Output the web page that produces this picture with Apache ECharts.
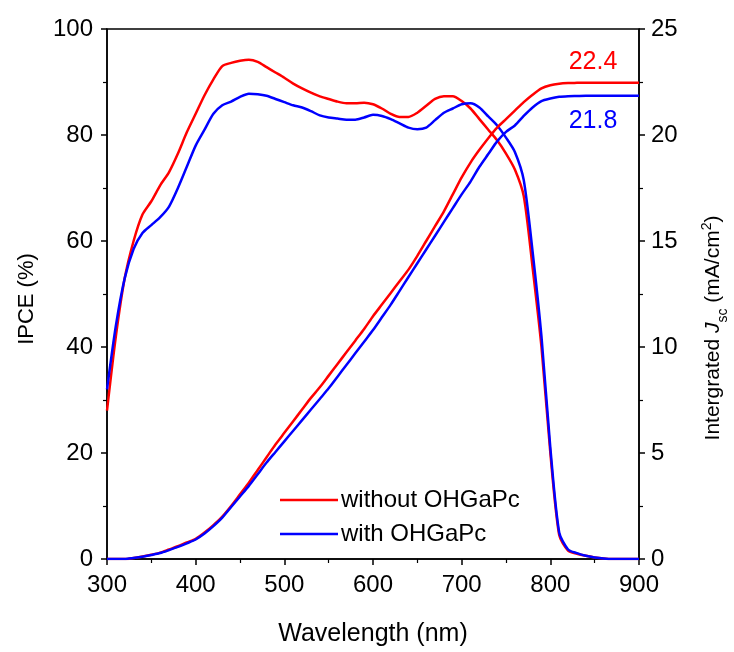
<!DOCTYPE html>
<html>
<head>
<meta charset="utf-8">
<script src="https://cdn.jsdelivr.net/npm/echarts@6/dist/echarts.min.js"></script>
<style>html,body{margin:0;padding:0;background:#fff}#c{width:734px;height:652px}</style>
</head>
<body>
<div id="c"></div>
<script>
const wavelength = [300,310,320,330,340,350,360,370,380,390,400,410,420,430,440,450,460,470,480,490,500,510,520,530,540,550,560,570,580,590,600,610,620,630,640,650,660,670,680,690,700,710,720,730,740,750,760,770,780,790,800,810,820,830,840,850,860,870,880,890,900];
const ipceWithout = [28,42,53,60,65,67.5,70.5,73,76.5,80.5,84,87.5,90.5,93,93.6,94,94.2,93.8,92.8,91.8,90.8,89.7,88.8,88,87.3,86.8,86.3,86,86,86.1,85.8,85,84,83.4,83.4,84.2,85.5,86.8,87.3,87.3,86.4,85,83,81,79,76.5,73.5,68.5,55,40,20,4.5,1.6,1,0.6,0.3,0.1,0,0,0,0];
const ipceWith = [32,44,53,58.5,61.5,63,64.5,66.5,70,74,78,81,84,85.6,86.3,87.2,87.8,87.7,87.4,86.8,86.2,85.6,85.2,84.5,83.7,83.3,83.1,82.9,82.9,83.3,83.8,83.6,83,82.2,81.4,81.1,81.4,82.8,84.2,85,85.8,86,85.2,83.5,81.8,79.5,76.8,71.5,58,42,21,5,1.8,1.1,0.6,0.3,0.1,0,0,0,0];
const jscWithout = [0,0,0,0.05,0.12,0.2,0.3,0.45,0.6,0.78,0.95,1.25,1.6,2.0,2.5,3.05,3.6,4.2,4.8,5.4,5.95,6.5,7.05,7.6,8.1,8.65,9.2,9.75,10.3,10.85,11.45,12.0,12.55,13.1,13.65,14.3,15.0,15.7,16.4,17.2,18.0,18.7,19.3,19.85,20.35,20.75,21.15,21.55,21.9,22.2,22.35,22.42,22.45,22.46,22.47,22.47,22.47,22.47,22.47,22.47,22.47];
const jscWith = [0,0,0,0.05,0.11,0.19,0.28,0.42,0.57,0.74,0.92,1.2,1.55,1.95,2.45,2.95,3.45,4.0,4.55,5.05,5.55,6.05,6.55,7.05,7.55,8.05,8.6,9.15,9.7,10.25,10.8,11.4,12.0,12.65,13.3,13.95,14.6,15.25,15.9,16.55,17.2,17.8,18.5,19.1,19.7,20.15,20.45,20.9,21.3,21.6,21.72,21.8,21.83,21.84,21.85,21.85,21.85,21.85,21.85,21.85,21.85];
const seriesNames = ['without OHGaPc','with OHGaPc'];
const finalJsc = ['22.4','21.8'];
const RED = '#ff0000', BLUE = '#0000ff';
const pair = (ys) => wavelength.map((w,i)=>[w,ys[i]]);

const chart = echarts.init(document.getElementById('c'));
const FONT = 'Liberation Sans, Arial, sans-serif';
const axisCommon = {
  axisLine:{show:true,lineStyle:{color:'#000',width:1.5}},
  axisTick:{show:true,inside:false,length:6,lineStyle:{color:'#000',width:1.5}},
  minorTick:{show:true,splitNumber:2,length:4,lineStyle:{color:'#000',width:1.2}},
  splitLine:{show:false},
  axisLabel:{color:'#000',fontSize:24,fontFamily:FONT,margin:14}
};
const lineSeries = (name, data, color, yIdx) => ({
  name, type:'line', data, yAxisIndex:yIdx, symbol:'none', smooth:0.25,
  lineStyle:{color,width:2.5}, itemStyle:{color}, z:3
});
chart.setOption({
  animation:false,
  textStyle:{fontFamily:FONT},
  grid:{left:107,right:95,top:29,bottom:92,show:true,borderColor:'#000',borderWidth:1.5},
  legend:{
    data:seriesNames, orient:'vertical', left:275, top:483, icon:'rect', itemWidth:58, itemHeight:2.5, itemGap:10,
    textStyle:{fontSize:24,color:'#000',fontFamily:FONT,padding:[0,0,0,-2]}
  },
  xAxis:Object.assign({}, axisCommon, {
    type:'value', min:300, max:900, interval:100,
    name:'Wavelength (nm)', nameLocation:'middle', nameGap:63,
    nameTextStyle:{fontSize:25,color:'#000',fontFamily:FONT}
  }),
  yAxis:[
    Object.assign({}, axisCommon, {
      type:'value', min:0, max:100, interval:20, position:'left'
    }),
    Object.assign({}, axisCommon, {
      type:'value', min:0, max:25, interval:5, position:'right',
      axisLabel:Object.assign({}, axisCommon.axisLabel, {margin:12})
    })
  ],
  graphic:[
    {type:'text', x:27, y:299, rotation:Math.PI/2,
     style:{text:'IPCE (%)', fill:'#000', fontSize:22, fontFamily:FONT, align:'center', verticalAlign:'middle'}},
    {type:'text', x:713, y:328, rotation:Math.PI/2,
     style:{text:'{n|Intergrated }{i|J}{s|sc}{n| (mA/cm}{p|2}{n|)}', align:'center', verticalAlign:'middle',
       rich:{
         n:{fontSize:21,fontFamily:FONT,color:'#000',lineHeight:26,verticalAlign:'middle'},
         i:{fontSize:21,fontFamily:FONT,fontStyle:'italic',color:'#000',lineHeight:26,verticalAlign:'middle'},
         s:{fontSize:14,fontFamily:FONT,color:'#000',lineHeight:26,verticalAlign:'bottom',padding:[0,0,-4,0]},
         p:{fontSize:14,fontFamily:FONT,color:'#000',lineHeight:26,verticalAlign:'top'}
       }}},
    {type:'text', x:593, y:62, style:{text:finalJsc[0], fill:RED, fontSize:25, fontFamily:FONT, align:'center', verticalAlign:'middle'}},
    {type:'text', x:593, y:121, style:{text:finalJsc[1], fill:BLUE, fontSize:25, fontFamily:FONT, align:'center', verticalAlign:'middle'}}
  ],
  series:[
    lineSeries(seriesNames[0], pair(ipceWithout), RED, 0),
    lineSeries(seriesNames[1], pair(ipceWith), BLUE, 0),
    lineSeries(seriesNames[0], pair(jscWithout), RED, 1),
    lineSeries(seriesNames[1], pair(jscWith), BLUE, 1)
  ]
});
</script>
</body>
</html>
